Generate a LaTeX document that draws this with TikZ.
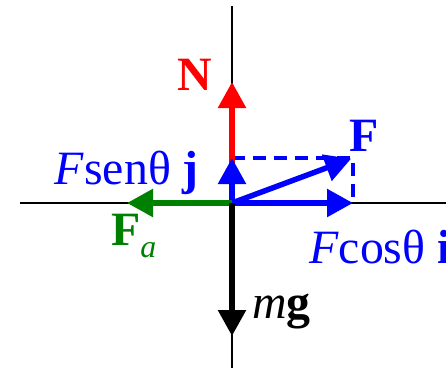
\documentclass[tikz,border=0pt]{standalone}
\usepackage{fontspec}
\setmainfont{Liberation Serif}
\usetikzlibrary{arrows.meta}
\definecolor{fred}{HTML}{FF0000}
\definecolor{fblue}{HTML}{0000FF}
\definecolor{fgreen}{HTML}{008000}

\begin{document}
\begin{tikzpicture}[
  x=1bp, y=1bp,
  >={Triangle[length=26bp, width=27bp]},
  axis/.style={line width=2.5bp, black},
  force/.style={->, line width=5.5bp, #1},
  comp/.style={dash pattern=on 13bp off 8bp, line width=3.5bp, fblue},
  lbl/.style={font=\fontsize{48}{52}\selectfont, text=#1, inner sep=0pt},
]

% Frame
\useasboundingbox (-232,-166) rectangle (214,203);

% Points
\coordinate (O) at (0,0);
\coordinate (xl) at (-212,0);
\coordinate (xr) at (214,0);
\coordinate (yt) at (0,197);
\coordinate (yb) at (0,-165);
\coordinate (Ntip) at (0,121);
\coordinate (Fy) at (0,45);
\coordinate (Fx) at (121,0);
\coordinate (Ftip) at (121,45);
\coordinate (Fatip) at (-105,0);
\coordinate (Wtip) at (0,-133);

% Axes
\draw[axis] (xl) -- (xr);
\draw[axis] (yb) -- (yt);

% Components (dashed)
\draw[comp] (Fy) -- (Ftip) -- (Fx);

% Forces
\draw[force=fred] (O) -- (Ntip);
\draw[force=fblue] (O) -- (Fy);
\draw[force=fblue] (O) -- (Fx);
\draw[force=fblue, shorten >=2bp] (O) -- (Ftip);
\draw[force=fgreen] (O) -- (Fatip);
\draw[force=black] (O) -- (Wtip);

% Labels
\node[lbl=fred] (N) at (-37,128) {\textbf{N}};
\node[lbl=fblue] (F) at (132,67) {\textbf{F}};
\node[lbl=fblue, anchor=base east] (Fsen) at (-33,19)
  {\textit{F}senθ \textbf{j}};
\node[lbl=fgreen, anchor=base west] (Fa) at (-121,-42)
  {\textbf{F}\raisebox{-12bp}{\fontsize{32}{32}\selectfont\textit{a}}};
\node[lbl=fblue, anchor=base west] (Fcos) at (77,-60)
  {\textit{F}cosθ \textbf{i}};
\node[lbl=black, anchor=base west] (mg) at (20,-115)
  {\textit{m}\textbf{g}};

\end{tikzpicture}
\end{document}
